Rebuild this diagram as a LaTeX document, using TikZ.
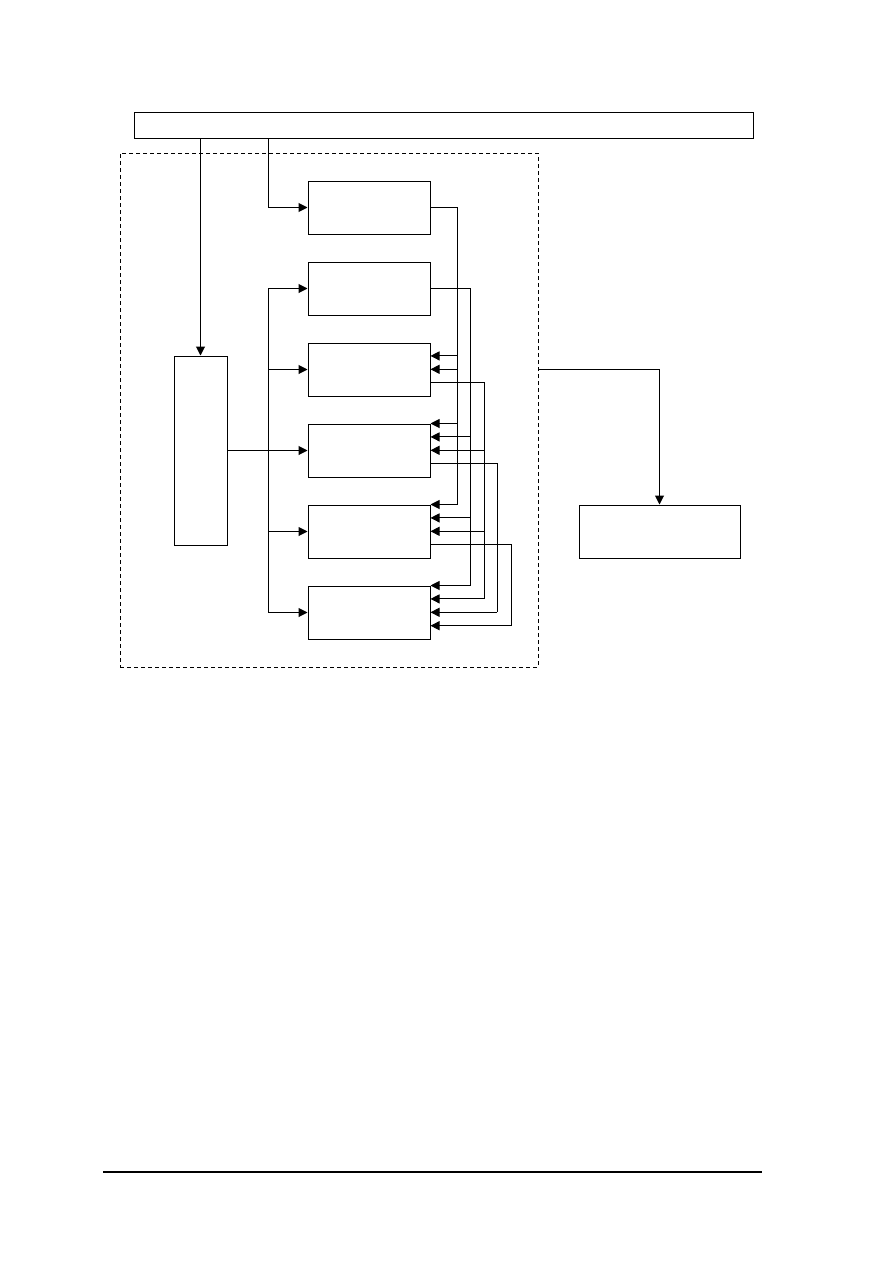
\documentclass[tikz,border=0pt]{standalone}
\usetikzlibrary{arrows.meta,calc}
\tikzset{
  box/.style={draw=black, line width=1pt, fill=white, rectangle, inner sep=0pt},
  conn/.style={line width=1pt, draw=black},
  arr/.style={conn, -{Triangle[length=9pt,width=9pt]}},
  dashbox/.style={draw=black, line width=1pt, dash pattern=on 4pt off 3pt, rectangle, inner sep=0pt}
}
\begin{document}
\begin{tikzpicture}[x=1pt,y=-1pt]
\useasboundingbox (0,0) rectangle (893,1263);
\fill[white] (0,0) rectangle (893,1263);
% dashed enclosure
\node[dashbox, minimum width=418pt, minimum height=514pt] (dash) at (329,410) {};
% top bar
\node[box, minimum width=619pt, minimum height=26pt] (top) at (443.5,125) {};
% tall box
\node[box, minimum width=53pt, minimum height=189pt] (tall) at (200.5,450.5) {};
% stacked boxes
\foreach \i/\cy in {1/207.5,2/288.5,3/369.5,4/450.5,5/531.5,6/612.5}{
  \node[box, minimum width=122pt, minimum height=53pt] (b\i) at (369,\cy) {};
}
% right box
\node[box, minimum width=161pt, minimum height=53pt] (rbox) at (659.5,531.5) {};
% bottom rule
\coordinate (ruleL) at (103,1172);
\coordinate (ruleR) at (762,1172);
\draw[line width=1.2pt] (ruleL) -- (ruleR);

% bus coordinates
\coordinate (bus) at (268,0);
\foreach \k/\x in {1/457,2/470,3/484,4/497,5/511}{\coordinate (c\k) at (\x,0);}
% arrow points on right sides
\foreach \i in {1,...,6}{
  \foreach \k in {0,1,2,3}{
    \coordinate (b\i-\k) at ($(b\i.north east)+(0,13.4*\k)$);
  }
}

% top bar to tall box and B1
\draw[arr] (top.south -| tall.north) -- (tall.north);
\draw[arr] (top.south -| bus) |- (b1.west);
% left bus
\draw[conn] (bus |- b2.west) -- (bus |- b6.west);
\foreach \i in {2,3,5,6}{ \draw[arr] (bus |- b\i.west) -- (b\i.west); }
\draw[arr] (tall.east |- b4.west) -- (b4.west);

% outputs from boxes (right side)
\draw[conn] (b1.east) -| (c1 |- b5-0);
\draw[conn] (b2.east) -| (c2 |- b6-0);
\draw[conn] (b3-3) -| (c3 |- b6-1);
\draw[conn] (b4-3) -| (c4 |- b6-2);
\draw[conn] (b5-3) -| (c5 |- b6-3);

% feedback arrows
\draw[arr] (c1 |- b3-1) -- (b3-1);
\draw[arr] (c1 |- b3-2) -- (b3-2);
\draw[arr] (c1 |- b4-0) -- (b4-0);
\draw[arr] (c2 |- b4-1) -- (b4-1);
\draw[arr] (c3 |- b4-2) -- (b4-2);
\draw[arr] (c1 |- b5-0) -- (b5-0);
\draw[arr] (c2 |- b5-1) -- (b5-1);
\draw[arr] (c3 |- b5-2) -- (b5-2);
\draw[arr] (c2 |- b6-0) -- (b6-0);
\draw[arr] (c3 |- b6-1) -- (b6-1);
\draw[arr] (c4 |- b6-2) -- (b6-2);
\draw[arr] (c5 |- b6-3) -- (b6-3);

% enclosure to right box
\draw[arr] (dash.east |- b3) -| (rbox.north);
\end{tikzpicture}
\end{document}
